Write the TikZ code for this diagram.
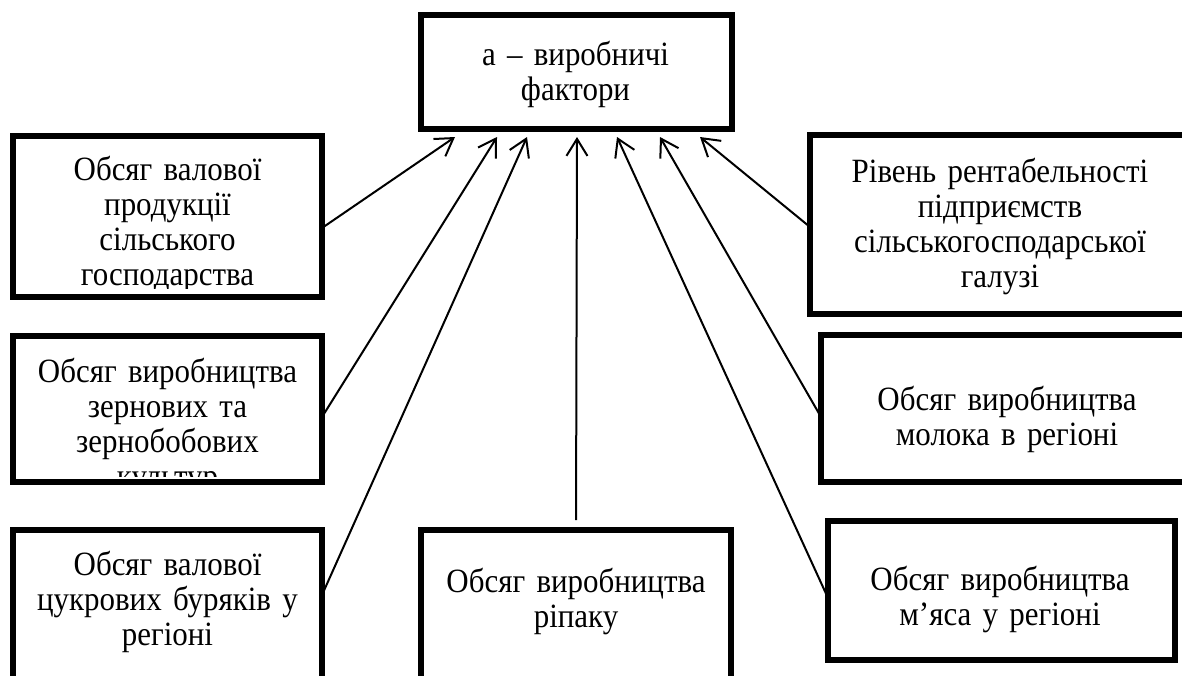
\documentclass[tikz,border=0pt]{standalone}
\usepackage{fontspec}
\setmainfont{Liberation Serif}[FakeStretch=0.91]
\usetikzlibrary{arrows.meta}

\tikzset{
  frame/.style={draw=black, line width=5.5pt, inner sep=0pt, outer sep=0pt, fill=none},
  lbl/.style={font=\fontsize{34}{35}\selectfont, text width=400pt, align=center,
              inner sep=0pt, anchor=base},
  arr/.style={line width=2pt, -{Straight Barb[length=17pt,width=21pt]}}
}

\begin{document}
\begin{tikzpicture}[x=1pt, y=-1pt]
\useasboundingbox (0,0) rectangle (1182,675);
\clip (0,0) rectangle (1182,675);

% factor boxes
\node[frame, minimum width=311pt, minimum height=114pt] (T)  at (576.5,72)    {};
\node[frame, minimum width=309pt, minimum height=161pt] (L1) at (167.5,216.5) {};
\node[frame, minimum width=309pt, minimum height=146pt] (L2) at (167.5,409)   {};
\node[frame, minimum width=309pt, minimum height=170pt] (L3) at (167.5,615)   {};
\node[frame, minimum width=310pt, minimum height=170pt] (C)  at (576,615)     {};
\node[frame, minimum width=386pt, minimum height=179pt] (R1) at (1003,224.5)  {};
\node[frame, minimum width=375pt, minimum height=147pt] (R2) at (1008.5,408.5){};
\node[frame, minimum width=347pt, minimum height=139pt] (R3) at (1001.5,590.5){};

% box texts (overflowing lines are cut by the frame)
\node[lbl] (tT) at (575.5,65) {а – виробничі\\фактори};
\begin{scope}
  \clip (17,140) rectangle (318,288);
  \node[lbl] (tL1) at (167.5,180) {Обсяг валової\\продукції\\сільського\\господарства};
\end{scope}
\begin{scope}
  \clip (17,340) rectangle (318,476);
  \node[lbl] (tL2) at (167.5,382) {Обсяг виробництва\\зернових та\\зернобобових\\культур};
\end{scope}
\node[lbl] (tL3) at (167.5,575) {Обсяг валової\\цукрових буряків у\\регіоні};
\node[lbl] (tC)  at (576,592)   {Обсяг виробництва\\ріпаку};
\node[lbl] (tR1) at (1000,182)  {Рівень рентабельності\\підприємств\\сільськогосподарської\\галузі};
\node[lbl] (tR2) at (1007,410)  {Обсяг виробництва\\молока в регіоні};
\node[lbl] (tR3) at (1000,590)  {Обсяг виробництва\\м’яса у регіоні};

% influence arrows into the top box
\draw[arr] ([yshift=-11.5pt]L1.east) -- ([xshift=-121.5pt,yshift=-8pt]T.south);
\draw[arr] ([yshift=-8pt]L2.east)    -- ([xshift=-79.5pt,yshift=-8pt]T.south);
\draw[arr] ([yshift=20pt]L3.east)    -- ([xshift=-49.5pt,yshift=-8pt]T.south);
\draw[arr, shorten <=10pt] (C.north) -- ([xshift=0.5pt,yshift=-8pt]T.south);
\draw[arr] ([yshift=-7.5pt]R3.west)  -- ([xshift=40.5pt,yshift=-8pt]T.south);
\draw[arr] ([yshift=-8.5pt]R2.west)  -- ([xshift=83.5pt,yshift=-8pt]T.south);
\draw[arr] ([yshift=-2.5pt]R1.west)  -- ([xshift=123.5pt,yshift=-8pt]T.south);
\end{tikzpicture}
\end{document}
